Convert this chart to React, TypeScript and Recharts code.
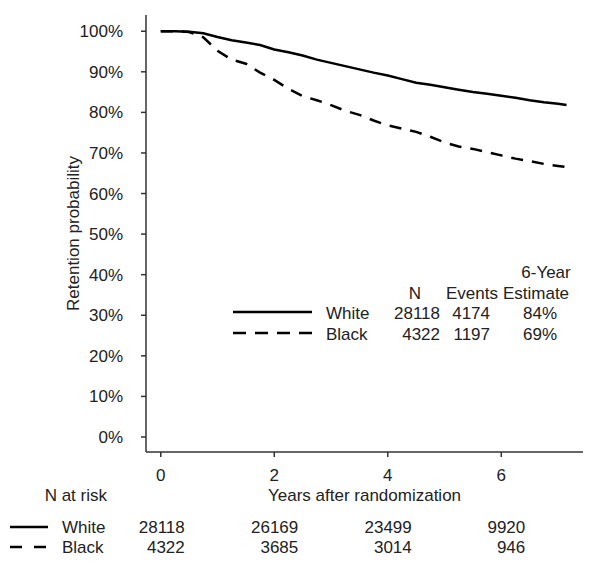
import React from "react";
import {
  LineChart,
  Line,
  XAxis,
  YAxis,
  Label,
  Customized,
} from "recharts";

// Kaplan-Meier retention (percent)
const years = [
  0, 0.25, 0.5, 0.75, 1, 1.25, 1.5, 1.75, 2, 2.25, 2.5, 2.75, 3, 3.25, 3.5,
  3.75, 4, 4.25, 4.5, 4.75, 5, 5.25, 5.5, 5.75, 6, 6.25, 6.5, 6.75, 7, 7.15,
];
const whiteRetention = [
  100, 100, 99.9, 99.5, 98.6, 97.8, 97.2, 96.6, 95.5, 94.8, 94.0, 93.0, 92.2,
  91.4, 90.6, 89.8, 89.1, 88.2, 87.3, 86.8, 86.2, 85.6, 85.0, 84.6, 84.1, 83.6,
  83.0, 82.5, 82.1, 81.8,
];
const blackRetention = [
  100, 100, 99.8, 98.5, 95.2, 93.0, 92.0, 89.8, 88.0, 85.8, 84.0, 83.0, 81.8,
  80.4, 79.4, 78.0, 76.8, 76.0, 75.2, 74.0, 72.6, 71.6, 71.0, 70.2, 69.4, 68.6,
  68.0, 67.3, 66.8, 66.5,
];

const yTicks = [0, 10, 20, 30, 40, 50, 60, 70, 80, 90, 100];

// number at risk table
const riskTimes = [0, 2, 4, 6];
const whiteAtRisk = [28118, 26169, 23499, 9920];
const blackAtRisk = [4322, 3685, 3014, 946];

// legend table
const groups = ["White", "Black"];
const groupN = [28118, 4322];
const groupEvents = [4174, 1197];
const groupEstimate = ["84%", "69%"];

const chartData = years.map((t, i) => ({
  t,
  white: whiteRetention[i],
  black: blackRetention[i],
}));

const FONT = "'Liberation Sans', Arial, sans-serif";
const TXT = "#222";
const DASH = "12 9";

function RiskTick(props: any) {
  const { x, y, payload } = props;
  const i = riskTimes.indexOf(payload.value);
  if (i < 0) return null;
  return (
    <g fontSize={17} fill={TXT} fontFamily={FONT}>
      <text x={x + 24} y={y + 31} textAnchor="end">
        {whiteAtRisk[i]}
      </text>
      <text x={x + 24} y={y + 51} textAnchor="end">
        {blackAtRisk[i]}
      </text>
    </g>
  );
}

function Annotations() {
  return (
    <g fontSize={17} fill={TXT} fontFamily={FONT}>
      {/* legend table in plot */}
      <text x={546} y={278} textAnchor="middle">6-Year</text>
      <text x={415} y={299} textAnchor="middle">N</text>
      <text x={472} y={299} textAnchor="middle">Events</text>
      <text x={536} y={299} textAnchor="middle">Estimate</text>
      {groups.map((g, i) => {
        const ly = 312 + i * 21;
        const ty = 319 + i * 21;
        return (
          <g key={g}>
            <line
              x1={233}
              x2={312}
              y1={ly}
              y2={ly}
              stroke="#000"
              strokeWidth={2.5}
              strokeDasharray={i === 0 ? undefined : "13 9"}
            />
            <text x={326} y={ty}>{g}</text>
            <text x={440} y={ty} textAnchor="end">{groupN[i]}</text>
            <text x={490} y={ty} textAnchor="end">{groupEvents[i]}</text>
            <text x={540} y={ty} textAnchor="middle">{groupEstimate[i]}</text>
          </g>
        );
      })}
      {/* N at risk row labels */}
      <text x={107} y={501} textAnchor="end">N at risk</text>
      {groups.map((g, i) => {
        const ly = 527 + i * 20;
        return (
          <g key={"r" + g}>
            <line
              x1={10}
              x2={48}
              y1={ly}
              y2={ly}
              stroke="#000"
              strokeWidth={2.5}
              strokeDasharray={i === 0 ? undefined : "12 12"}
            />
            <text x={62} y={533 + i * 20}>{g}</text>
          </g>
        );
      })}
    </g>
  );
}

export default function App() {
  return (
    <div style={{ position: "absolute", left: 0, top: 0 }}>
      <LineChart
        width={600}
        height={572}
        data={chartData}
        margin={{ top: 15, right: 17, left: 0, bottom: 20 }}
        style={{ fontFamily: FONT }}
      >
        <XAxis
          dataKey="t"
          type="number"
          domain={[-0.26, 7.44]}
          ticks={riskTimes}
          allowDataOverflow
          height={50}
          stroke="#333"
          strokeWidth={1.5}
          tickSize={5}
          tickMargin={12}
          tick={{ fontSize: 17, fill: TXT }}
        >
          <Label
            value="Years after randomization"
            position="insideBottom"
            offset={1}
            style={{ fontSize: 17, fill: TXT }}
          />
        </XAxis>
        <XAxis
          xAxisId="risk"
          dataKey="t"
          type="number"
          domain={[-0.26, 7.44]}
          ticks={riskTimes}
          allowDataOverflow
          height={50}
          axisLine={false}
          tickLine={false}
          tickSize={0}
          tickMargin={0}
          tick={<RiskTick />}
        />
        <YAxis
          type="number"
          domain={[-3.7, 104]}
          ticks={yTicks}
          allowDataOverflow
          width={146}
          stroke="#333"
          strokeWidth={1.5}
          tickSize={5}
          tickMargin={18}
          tickFormatter={(v: number) => `${v}%`}
          tick={{ fontSize: 17, fill: TXT }}
        >
          <Label
            value="Retention probability"
            angle={-90}
            position="center"
            style={{ fontSize: 17, fill: TXT, textAnchor: "middle" }}
          />
        </YAxis>
        <Line
          dataKey="white"
          type="linear"
          stroke="#000"
          strokeWidth={2.5}
          dot={false}
          isAnimationActive={false}
        />
        <Line
          dataKey="black"
          type="linear"
          stroke="#000"
          strokeWidth={2.5}
          strokeDasharray={DASH}
          dot={false}
          isAnimationActive={false}
        />
        <Customized component={<Annotations />} />
      </LineChart>
    </div>
  );
}
